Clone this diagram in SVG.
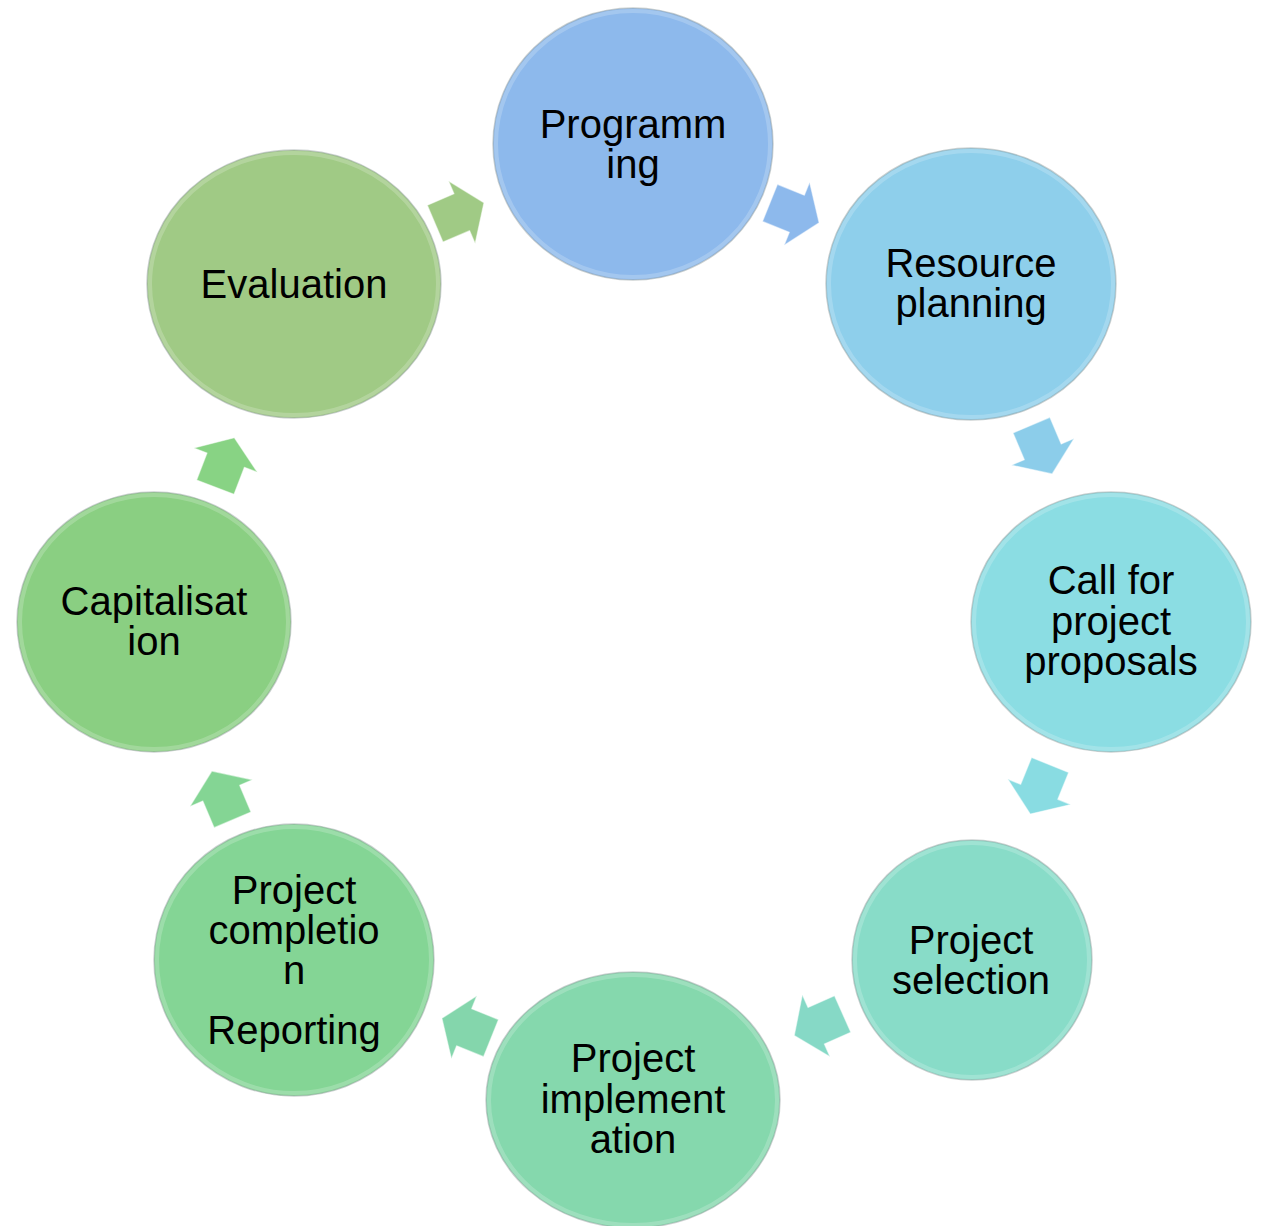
<svg xmlns="http://www.w3.org/2000/svg" width="1263" height="1226" viewBox="0 0 1263 1226">
<defs>
<style>
.node ellipse.base{stroke:#a3acab;stroke-width:1.5;stroke-opacity:0.55}
.node ellipse.rim{fill:none;stroke:#ffffff;stroke-opacity:0.2;stroke-width:4}
.lbl{font-family:"Liberation Sans",Arial,sans-serif;font-size:40px;fill:#000;text-anchor:middle}
.arr{stroke:#ffffff;stroke-opacity:0.5;stroke-width:1.2;stroke-linejoin:round}
</style>
<polygon id="arrowShape" points="-27,-20 2,-20 2,-34 26,0 2,34 2,20 -27,20"/>
</defs>
<rect width="1263" height="1226" fill="#ffffff"/>
<g id="connectors">
<use href="#arrowShape" class="arr" fill="#8DB9EC" transform="translate(795,213) rotate(22)"/>
<use href="#arrowShape" class="arr" fill="#8CCDEA" transform="translate(1042,450) rotate(67)"/>
<use href="#arrowShape" class="arr" fill="#89DCE2" transform="translate(1040,790) rotate(112)"/>
<use href="#arrowShape" class="arr" fill="#86D9C6" transform="translate(818,1025) rotate(156)"/>
<use href="#arrowShape" class="arr" fill="#84D6AC" transform="translate(466,1028) rotate(202)"/>
<use href="#arrowShape" class="arr" fill="#84D594" transform="translate(222,795) rotate(247)"/>
<use href="#arrowShape" class="arr" fill="#88D384" transform="translate(225,462) rotate(291)"/>
<use href="#arrowShape" class="arr" fill="#A0CA85" transform="translate(460,213) rotate(337)"/>
</g>
<g id="node-programming" class="node">
<ellipse class="base" cx="633" cy="144" rx="140" ry="136" fill="#8DB9EC"/>
<ellipse class="rim" cx="633" cy="144" rx="137" ry="133"/>
<text class="lbl" x="633" y="138">Programm</text>
<text class="lbl" x="633" y="178">ing</text>
</g>
<g id="node-resource" class="node">
<ellipse class="base" cx="971" cy="284" rx="145" ry="136" fill="#8ECFEB"/>
<ellipse class="rim" cx="971" cy="284" rx="142" ry="133"/>
<text class="lbl" x="971" y="277">Resource</text>
<text class="lbl" x="971" y="317">planning</text>
</g>
<g id="node-call" class="node">
<ellipse class="base" cx="1111" cy="622" rx="140" ry="130" fill="#8BDDE3"/>
<ellipse class="rim" cx="1111" cy="622" rx="137" ry="127"/>
<text class="lbl" x="1111" y="594">Call for</text>
<text class="lbl" x="1111" y="635">project</text>
<text class="lbl" x="1111" y="675">proposals</text>
</g>
<g id="node-selection" class="node">
<ellipse class="base" cx="972" cy="960" rx="120" ry="120" fill="#88DCC8"/>
<ellipse class="rim" cx="972" cy="960" rx="117" ry="117"/>
<text class="lbl" x="971" y="954">Project</text>
<text class="lbl" x="971" y="994">selection</text>
</g>
<g id="node-implementation" class="node">
<ellipse class="base" cx="633" cy="1100" rx="147" ry="128" fill="#85D8AD"/>
<ellipse class="rim" cx="633" cy="1100" rx="144" ry="125"/>
<text class="lbl" x="633" y="1072">Project</text>
<text class="lbl" x="633" y="1113">implement</text>
<text class="lbl" x="633" y="1153">ation</text>
</g>
<g id="node-completion" class="node">
<ellipse class="base" cx="294" cy="960" rx="140" ry="136" fill="#84D595"/>
<ellipse class="rim" cx="294" cy="960" rx="137" ry="133"/>
<text class="lbl" x="294" y="904">Project</text>
<text class="lbl" x="294" y="944">completio</text>
<text class="lbl" x="294" y="984">n</text>
<text class="lbl" x="294" y="1044">Reporting</text>
</g>
<g id="node-capitalisation" class="node">
<ellipse class="base" cx="154" cy="622" rx="137" ry="130" fill="#8ACF82"/>
<ellipse class="rim" cx="154" cy="622" rx="134" ry="127"/>
<text class="lbl" x="154" y="615">Capitalisat</text>
<text class="lbl" x="154" y="655">ion</text>
</g>
<g id="node-evaluation" class="node">
<ellipse class="base" cx="294" cy="284" rx="147" ry="134" fill="#A0CA85"/>
<ellipse class="rim" cx="294" cy="284" rx="144" ry="131"/>
<text class="lbl" x="294" y="298">Evaluation</text>
</g>
</svg>
